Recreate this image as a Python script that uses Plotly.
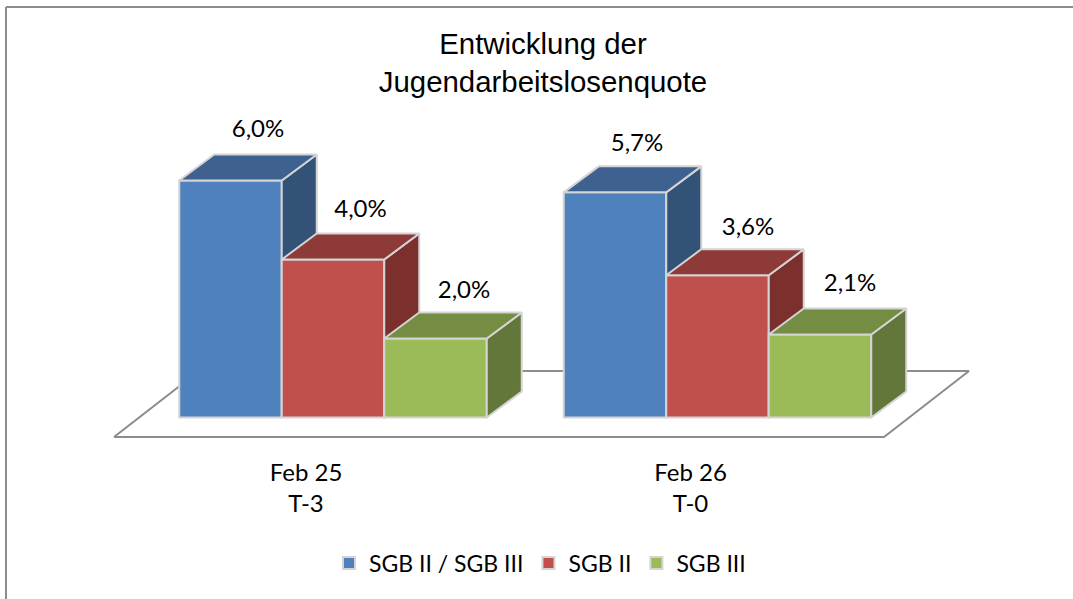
import plotly.graph_objects as go

MONTHS = ["Feb 25", "Feb 26"]
OFFSETS = ["T-3", "T-0"]
SERIES_NAMES = ["SGB II / SGB III", "SGB II", "SGB III"]
SGB_ALL = [6.0, 5.7]
SGB_II = [4.0, 3.6]
SGB_III = [2.0, 2.1]
TITLE = "Entwicklung der<br>Jugendarbeitslosenquote"

FRONT = ["#4f81bd", "#c0504d", "#9bbb59"]
TOP = ["#3f618f", "#8e3a38", "#758c43"]
SIDE = ["#325278", "#7b302e", "#64773a"]
EDGE = "#d4d4d4"
LINE = "#8c8c8c"

W, H = 1073, 599
PX_X = 384.5          # pixels per category
PX_Y = 39.5           # pixels per percent
X0_PX, Y0_PX = 333.0, 417.5
BOTTOM_PX = 445
BAR_W = 102.5 / PX_X
DX = 35 / PX_X
DY = 26 / PX_Y
LABEL_DX = [[27.5, 22], [27.5, 30.5], [28.5, 30]]   # label offset from bar centre, px
LABEL_DY = [[50, 47], [49, 46], [47, 50]]           # label offset above bar top, px
xr = [-X0_PX / PX_X, (W - X0_PX) / PX_X]
yr = [(Y0_PX - BOTTOM_PX) / PX_Y, Y0_PX / PX_Y]


def px_x(p):
    return (p - X0_PX) / PX_X


def px_y(p):
    return (Y0_PX - p) / PX_Y


fig = go.Figure()

# floor
fx = [px_x(p) for p in (114, 884, 969, 199, 114)]
fy = [px_y(p) for p in (437, 437, 371, 371, 437)]
fig.add_trace(go.Scatter(x=fx, y=fy, mode="lines", fill="toself", fillcolor="white",
                         line=dict(color=LINE, width=2), showlegend=False, hoverinfo="skip"))

all_series = [SGB_ALL, SGB_II, SGB_III]
axis_suffix = ["2", "3", "4"]
for s, values in enumerate(all_series):
    xa, ya = "x" + axis_suffix[s], "y" + axis_suffix[s]
    lefts = [c + (s - 1.5) * BAR_W for c in range(len(values))]
    centers = [l + BAR_W / 2 for l in lefts]
    fig.add_trace(go.Bar(x=centers, y=values, width=BAR_W, name=SERIES_NAMES[s],
                         marker=dict(color=FRONT[s], line=dict(color=EDGE, width=2)),
                         xaxis=xa, yaxis=ya))
    for l, v in zip(lefts, values):
        r = l + BAR_W
        fig.add_trace(go.Scatter(x=[r, r + DX, r + DX, r, r], y=[0, DY, v + DY, v, 0], mode="lines",
                                 fill="toself", fillcolor=SIDE[s], line=dict(color=EDGE, width=2),
                                 showlegend=False, hoverinfo="skip", xaxis=xa, yaxis=ya))
        fig.add_trace(go.Scatter(x=[l, r, r + DX, l + DX, l], y=[v, v, v + DY, v + DY, v], mode="lines",
                                 fill="toself", fillcolor=TOP[s], line=dict(color=EDGE, width=2),
                                 showlegend=False, hoverinfo="skip", xaxis=xa, yaxis=ya))
    fig.add_trace(go.Scatter(x=[c + d / PX_X for c, d in zip(centers, LABEL_DX[s])],
                             y=[v + d / PX_Y for v, d in zip(values, LABEL_DY[s])],
                             mode="text", text=[f"{v:.1f}%".replace(".", ",") for v in values],
                             textposition="middle center",
                             textfont=dict(family="Lato", size=24, color="#000000"),
                             showlegend=False, hoverinfo="skip", xaxis="x4", yaxis="y4"))

tick_pos = [c - 27 / PX_X for c in range(len(MONTHS))]
tick_text = [f"{m}<br>{o}" for m, o in zip(MONTHS, OFFSETS)]
hidden_y = dict(range=yr, visible=False, fixedrange=True)
hidden_x = dict(range=xr, visible=False, fixedrange=True, overlaying="x")
fig.update_layout(
    width=W, height=H, autosize=False,
    paper_bgcolor="white", plot_bgcolor="white",
    margin=dict(l=0, r=0, t=0, b=H - BOTTOM_PX, pad=0),
    showlegend=True,
    title=dict(text=TITLE, x=543 / W, xanchor="center", y=1 - 54 / H, yanchor="middle",
               yref="container", font=dict(family="Liberation Sans", size=29.4, color="#000000")),
    xaxis=dict(range=xr, tickvals=tick_pos, ticktext=tick_text, showgrid=False, zeroline=False, showline=False,
               ticks="outside", ticklen=6, tickcolor="rgba(0,0,0,0)", fixedrange=True,
               tickfont=dict(family="Lato", size=24, color="#000000")),
    yaxis=hidden_y,
    xaxis2=dict(hidden_x, anchor="y2"),
    yaxis2=dict(hidden_y, overlaying="y", anchor="x2"),
    xaxis3=dict(hidden_x, anchor="y3"),
    yaxis3=dict(hidden_y, overlaying="y", anchor="x3"),
    xaxis4=dict(hidden_x, anchor="y4"),
    yaxis4=dict(hidden_y, overlaying="y", anchor="x4"),
    legend=dict(orientation="h", x=329 / W, xanchor="left", y=1 - 563 / H, yanchor="middle", yref="container",
                font=dict(family="Lato", size=23, color="#000000"), bgcolor="rgba(0,0,0,0)"),
)
# frame: top and left rules
fig.add_shape(type="line", xref="x", yref="y", x0=px_x(6), x1=xr[1], y0=px_y(7), y1=px_y(7),
              line=dict(color=LINE, width=2))
fig.add_shape(type="line", xref="x", yref="paper", x0=px_x(6), x1=px_x(6), y0=-1, y1=1 - 7 / BOTTOM_PX,
              line=dict(color=LINE, width=2))
fig.write_html("out.html", config={"displayModeBar": False}, post_script="document.body.style.margin='0';")
